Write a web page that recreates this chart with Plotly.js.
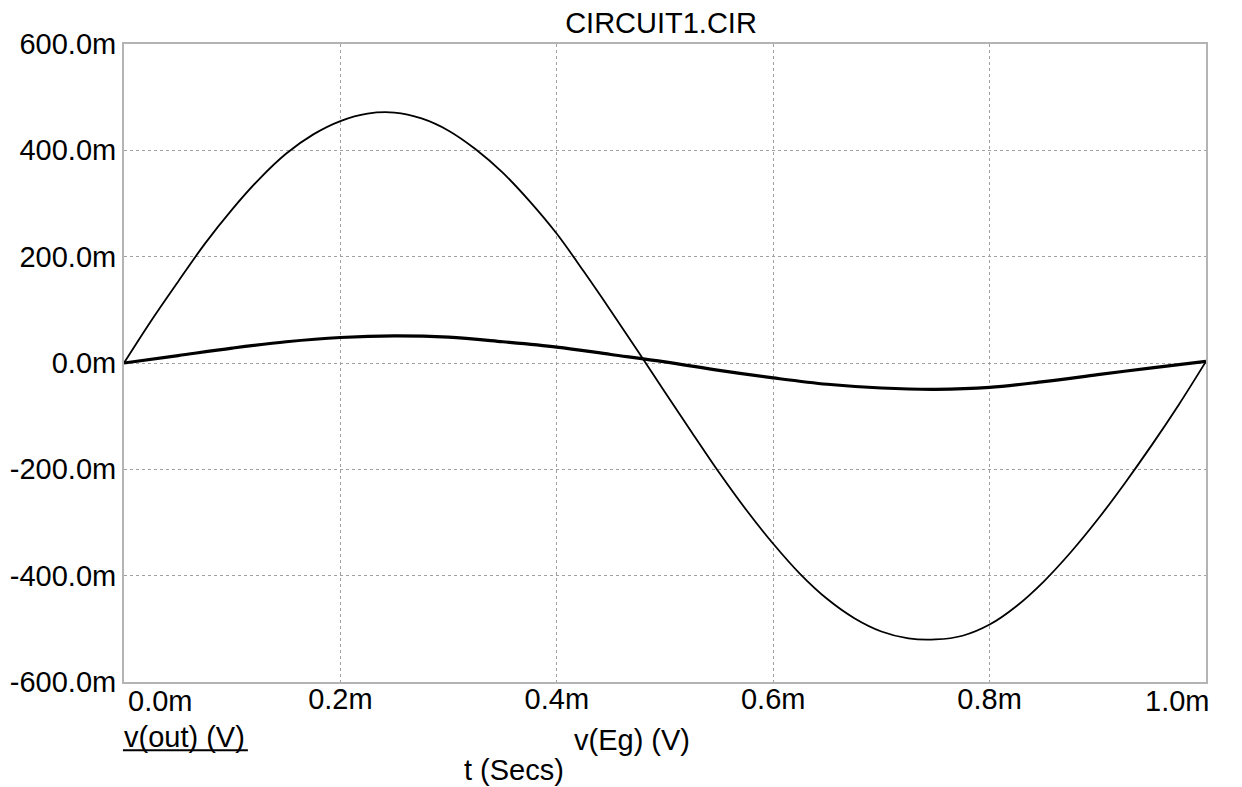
<!DOCTYPE html>
<html>
<head>
<meta charset="utf-8">
<script src="https://cdn.plot.ly/plotly-3.0.1.min.js"></script>
<style>
html,body{margin:0;padding:0;background:#fff;}
#chart{width:1242px;height:787px;}
</style>
</head>
<body>
<div id="chart"></div>
<script>
// time in ms, voltage in mV
const tEg = [0, 0.025, 0.05, 0.075, 0.1, 0.125, 0.15, 0.175, 0.2, 0.225, 0.25, 0.275, 0.3, 0.325, 0.35, 0.375, 0.4, 0.425, 0.45, 0.475, 0.5, 0.525, 0.55, 0.575, 0.6, 0.625, 0.65, 0.675, 0.7, 0.725, 0.75, 0.775, 0.8, 0.825, 0.85, 0.875, 0.9, 0.925, 0.95, 0.975, 1.0];
const vEg = [0, 79, 153, 225, 289, 346, 394, 430, 455, 469, 471, 460, 437, 402, 358, 304, 243, 172, 98, 22, -55, -131, -206, -276, -340, -397, -444, -480, -505, -518, -520, -513, -492, -457, -411, -356, -294, -226, -154, -78, 3];

const tOut = [0, 0.05, 0.1, 0.15, 0.2, 0.25, 0.3, 0.35, 0.4, 0.45, 0.5, 0.55, 0.6, 0.65, 0.7, 0.75, 0.8, 0.85, 0.9, 0.95, 1.0];
const vOut = [0, 14, 28, 40, 48, 51, 48.5, 40, 30, 16, 2, -14, -28, -40, -47, -49.5, -46, -35, -22, -9, 3];

const xTickVals = [0.2, 0.4, 0.6, 0.8];
const xTickText = ["0.2m", "0.4m", "0.6m", "0.8m"];
const yTickVals = [-600, -400, -200, 0, 200, 400, 600];
const yTickText = ["-600.0m", "-400.0m", "-200.0m", "0.0m", "200.0m", "400.0m", "600.0m"];

const FONT = "Liberation Sans, Arial, sans-serif";
const fs = 29;

const traces = [
  {x: tEg, y: vEg, mode: "lines", line: {color: "#000", width: 1.8, shape: "spline", smoothing: 1}, hoverinfo: "skip", name: "v(Eg) (V)"},
  {x: tOut, y: vOut, mode: "lines", line: {color: "#000", width: 3.2, shape: "spline", smoothing: 1}, hoverinfo: "skip", name: "v(out) (V)"}
];

const layout = {
  width: 1242, height: 787,
  margin: {l: 124, r: 36, t: 44, b: 105, pad: 0},
  paper_bgcolor: "#fff", plot_bgcolor: "#fff",
  showlegend: false,
  font: {family: FONT, size: fs, color: "#000"},
  title: {text: "CIRCUIT1.CIR", font: {family: FONT, size: 29, color: "#000"}, x: 661/1242, xanchor: "center", xref: "container", y: 1 - 23/787, yanchor: "middle", yref: "container"},
  xaxis: {
    range: [0, 1], tickvals: xTickVals, ticktext: xTickText,
    showgrid: true, gridcolor: "#a0a0a0", gridwidth: 1, griddash: "3px,3px",
    showline: true, mirror: true, linecolor: "#b4b4b4", linewidth: 2,
    zeroline: false, ticks: "", tickfont: {family: FONT, size: fs, color: "#000"},
    ticklabelstandoff: -10, fixedrange: true
  },
  yaxis: {
    range: [-600, 600], tickvals: yTickVals, ticktext: yTickText,
    showgrid: true, gridcolor: "#a0a0a0", gridwidth: 1, griddash: "3px,3px",
    showline: true, mirror: true, linecolor: "#b4b4b4", linewidth: 2,
    zeroline: false, ticks: "", tickfont: {family: FONT, size: fs, color: "#000"},
    ticklabelstandoff: 0, fixedrange: true
  },
  shapes: [
    {type: "line", xref: "paper", yref: "paper", x0: -0.001, x1: 0.1145, y0: -0.107, y1: -0.107, line: {color: "#000", width: 2}}
  ],
  annotations: [
    {text: "0.0m", x: 0, y: 0, xref: "x", yref: "paper", xanchor: "left", yanchor: "middle", xshift: 2, yshift: -19, showarrow: false, font: {family: FONT, size: fs, color: "#000"}},
    {text: "1.0m", x: 1, y: 0, xref: "x", yref: "paper", xanchor: "right", yanchor: "middle", xshift: 5, yshift: -19, showarrow: false, font: {family: FONT, size: fs, color: "#000"}},
    {text: "v(out) (V)", x: 0, y: 0, xref: "x", yref: "paper", xanchor: "left", yanchor: "middle", xshift: -2, yshift: -55, showarrow: false, font: {family: FONT, size: fs, color: "#000"}},
    {text: "v(Eg) (V)", x: 0.414, y: 0, xref: "x", yref: "paper", xanchor: "left", yanchor: "middle", xshift: 0, yshift: -58, showarrow: false, font: {family: FONT, size: fs, color: "#000"}},
    {text: "t (Secs)", x: 0.36, y: 0, xref: "x", yref: "paper", xanchor: "center", yanchor: "middle", xshift: 0, yshift: -88, showarrow: false, font: {family: FONT, size: fs, color: "#000"}}
  ]
};

Plotly.newPlot("chart", traces, layout, {staticPlot: true, displayModeBar: false});
</script>
</body>
</html>
